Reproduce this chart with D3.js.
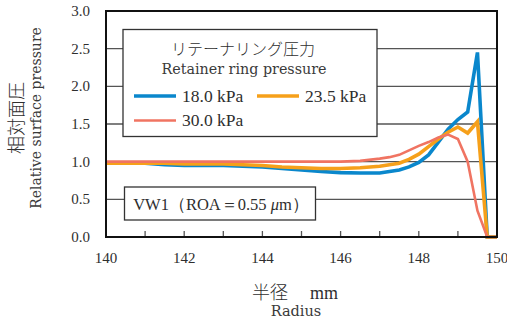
<!DOCTYPE html>
<html><head><meta charset="utf-8">
<script src="https://cdn.jsdelivr.net/npm/d3@7"></script>
<style>
body{margin:0;background:#fff;}
text{font-family:"Liberation Serif",serif;fill:#2e2e2e;}
.jp{font-family:"Noto Sans CJK JP",sans-serif;font-weight:300;}
.wide{font-family:"DejaVu Serif",serif;fill:#3a3a3a;}
</style></head><body>
<svg id="c" width="507" height="323"></svg>
<script>
const radius = [140,140.5,141,141.5,142,142.5,143,143.5,144,144.5,145,145.5,146,146.5,147,147.25,147.5,147.75,148,148.25,148.5,148.75,149,149.25,149.5,149.75,150];
const p18 = [0.98,0.98,0.98,0.96,0.95,0.95,0.95,0.94,0.93,0.91,0.89,0.87,0.855,0.85,0.85,0.87,0.89,0.93,0.99,1.09,1.26,1.43,1.56,1.66,2.45,0,0];
const p235 = [0.98,0.98,0.98,0.98,0.97,0.97,0.97,0.96,0.95,0.93,0.92,0.91,0.91,0.92,0.94,0.96,0.98,1.03,1.10,1.20,1.30,1.39,1.46,1.38,1.53,0,0];
const p30 = [1.0,1.0,1.0,1.0,1.0,1.0,1.0,1.0,1.0,1.0,1.0,1.0,1.0,1.01,1.04,1.06,1.09,1.15,1.21,1.26,1.32,1.36,1.30,1.0,0.35,0,0];
const seriesNames = ["18.0 kPa","23.5 kPa","30.0 kPa"];
const seriesColors = ["#0a87cc","#f6a01a","#f07462"];
const xTicks = [140,142,144,146,148,150];
const yTicks = [0,0.5,1.0,1.5,2.0,2.5,3.0];

const svg = d3.select("#c");
const L=106,R=497,T=11,B=237;
const x = d3.scaleLinear().domain([140,150]).range([L,R]);
const y = d3.scaleLinear().domain([0,3]).range([B,T]);

// gridlines
svg.append("g").selectAll("line").data(yTicks.filter(v=>v>0&&v<3)).join("line")
  .attr("x1",L).attr("x2",R).attr("y1",d=>y(d)).attr("y2",d=>y(d))
  .attr("stroke","#555").attr("stroke-width",1.3);

// x minor ticks inward
svg.append("g").selectAll("line").data(d3.range(141,150,1)).join("line")
  .attr("x1",d=>x(d)).attr("x2",d=>x(d)).attr("y1",B).attr("y2",B-6)
  .attr("stroke","#555").attr("stroke-width",1.3);

// lines
const data=[p18,p235,p30];
const widths=[3.6,3.6,2.6];
const line = d3.line().x((d,i)=>x(radius[i])).y(d=>y(d));
data.forEach((s,k)=>{
  svg.append("path").datum(s).attr("d",line).attr("fill","none")
    .attr("stroke",seriesColors[k]).attr("stroke-width",widths[k]).attr("stroke-linejoin","miter");
});

// frame
svg.append("rect").attr("x",L).attr("y",T).attr("width",R-L).attr("height",B-T)
  .attr("fill","none").attr("stroke","#111").attr("stroke-width",2);

// y tick labels
svg.append("g").selectAll("text").data(yTicks).join("text")
  .attr("x",90).attr("y",d=>y(d)+5).attr("text-anchor","end").attr("font-size",15)
  .text(d=>d.toFixed(1));
// x tick labels
svg.append("g").selectAll("text").data(xTicks).join("text")
  .attr("x",d=>x(d)).attr("y",262.5).attr("text-anchor","middle").attr("font-size",15)
  .text(d=>d);

// axis titles
const xt=svg.append("text").attr("x",252).attr("y",299).attr("font-size",18);
xt.append("tspan").attr("class","jp").text("半径");
xt.append("tspan").attr("dx",22).text("mm");
svg.append("text").attr("class","wide").attr("x",296).attr("y",316).attr("text-anchor","middle")
  .attr("font-size",14.5).text("Radius");
svg.append("text").attr("class","jp").attr("transform","translate(23,118) rotate(-90)")
  .attr("text-anchor","middle").attr("font-size",18).text("相対面圧");
svg.append("text").attr("class","wide").attr("transform","translate(40.5,118) rotate(-90)")
  .attr("text-anchor","middle").attr("font-size",14).text("Relative surface pressure");

// legend box
svg.append("rect").attr("x",123).attr("y",29.5).attr("width",254).attr("height",107)
  .attr("fill","#fff").attr("stroke","#333").attr("stroke-width",1.3);
svg.append("text").attr("class","jp").attr("x",243).attr("y",55).attr("text-anchor","middle")
  .attr("font-size",16).text("リテーナリング圧力");
svg.append("text").attr("class","wide").attr("x",244).attr("y",73.5).attr("text-anchor","middle")
  .attr("font-size",14.3).text("Retainer ring pressure");
const legPos=[[134,96],[257,96],[134,120.5]];
seriesNames.forEach((n,k)=>{
  const [lx,ly]=legPos[k];
  svg.append("line").attr("x1",lx).attr("x2",lx+42).attr("y1",ly).attr("y2",ly)
    .attr("stroke",seriesColors[k]).attr("stroke-width",widths[k]);
  svg.append("text").attr("x",lx+48).attr("y",ly+5.5).attr("font-size",17.5).text(n);
});

// VW1 box
svg.append("rect").attr("x",124.5).attr("y",187).attr("width",191).attr("height",33)
  .attr("fill","#fff").attr("stroke","#333").attr("stroke-width",1.3);
const t=svg.append("text").attr("x",221).attr("y",209.5).attr("text-anchor","middle").attr("font-size",16.5);
t.append("tspan").text("VW1（ROA＝0.55 ");
t.append("tspan").attr("font-style","italic").text("μ");
t.append("tspan").text("m）");
</script></body></html>
